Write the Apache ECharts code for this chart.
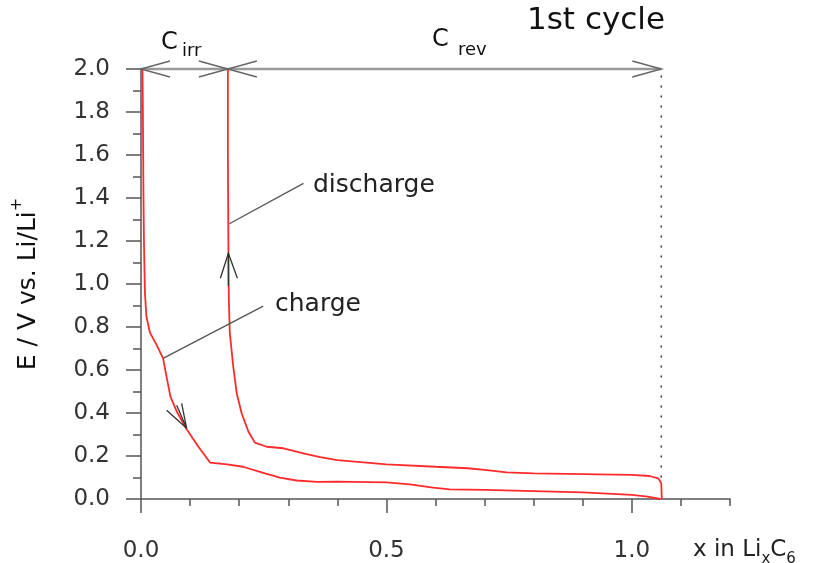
<!DOCTYPE html>
<html><head><meta charset="utf-8">
<script src="https://cdn.jsdelivr.net/npm/echarts@6/dist/echarts.min.js"></script>
<style>html,body{margin:0;padding:0;background:#fff}#c{width:828px;height:563px}</style>
</head><body><div id="c"></div>
<script>
// ---- data ----
const chargeX = [0.003, 0.004, 0.005, 0.006, 0.008, 0.011, 0.018, 0.032, 0.045, 0.052, 0.060, 0.073, 0.094, 0.117, 0.141, 0.175, 0.208, 0.249, 0.283, 0.317, 0.358, 0.400, 0.500, 0.548, 0.595, 0.629, 0.700, 0.800, 0.900, 1.000, 1.032, 1.058];
const chargeV = [2.000, 1.750, 1.420, 1.200, 0.960, 0.850, 0.775, 0.716, 0.654, 0.569, 0.476, 0.406, 0.321, 0.243, 0.169, 0.161, 0.150, 0.122, 0.099, 0.086, 0.080, 0.081, 0.077, 0.068, 0.053, 0.045, 0.042, 0.037, 0.031, 0.019, 0.011, 0.000];
const dischargeX = [1.061, 1.060, 1.054, 1.036, 1.000, 0.900, 0.800, 0.745, 0.700, 0.665, 0.600, 0.500, 0.400, 0.365, 0.335, 0.317, 0.290, 0.256, 0.232, 0.219, 0.205, 0.195, 0.188, 0.181, 0.179, 0.178, 0.177, 0.177];
const dischargeV = [0.000, 0.073, 0.096, 0.107, 0.112, 0.116, 0.119, 0.124, 0.135, 0.143, 0.150, 0.161, 0.181, 0.195, 0.210, 0.220, 0.236, 0.243, 0.262, 0.313, 0.399, 0.492, 0.615, 0.771, 0.926, 1.200, 1.600, 2.000];
const xTickLabels = [0, 0.5, 1.0];
const yTickLabels = [0, 0.2, 0.4, 0.6, 0.8, 1.0, 1.2, 1.4, 1.6, 1.8, 2.0];
// capacity markers (x in LixC6) and voltage level of the dimension line
const cIrrEnd = 0.177;
const cRevEnd = 1.06;
const topV = 2.0;
const dottedFromV = 0.1;
// annotation anchors (data coordinates)
const dischargeLeader = [[0.180, 1.28], [0.331, 1.468]];
const chargeLeader = [[0.045, 0.654], [0.249, 0.897]];
const dischargeArrowTip = [0.178, 1.143];
const chargeArrowTip = [0.093, 0.329];

const zip = (xs, ys) => xs.map((x, i) => [x, ys[i]]);

const DIRS = ['L', 'R', 'U', 'DR'];
const SHAPES = {
  L: [[[29, -8], [0, 0], [29, 8]]],
  R: [[[-29, -8], [0, 0], [-29, 8]]],
  U: [[[-8, 25], [0, 0], [9, 25]], [[0, 0], [0, 33]]],
  DR: [[[-20, -18], [0, 0]], [[-10, -23], [0, 0]], [[-5, -25], [0, 0]]]
};
function arrowRenderer(stroke, width) {
  return function (params, api) {
    const p = api.coord([api.value(0), api.value(1)]);
    const shapes = SHAPES[DIRS[api.value(2)]];
    return {
      type: 'group',
      children: shapes.map(pts => ({
        type: 'polyline',
        shape: { points: pts.map(q => [p[0] + q[0], p[1] + q[1]]) },
        style: { stroke: stroke, lineWidth: width, fill: null }
      }))
    };
  };
}

const FONT = '"DejaVu Sans", "Liberation Sans", Arial, sans-serif';
const AX = '#555';
const chart = echarts.init(document.getElementById('c'), null, { renderer: 'canvas' });
chart.setOption({
  animation: false,
  backgroundColor: '#fff',
  textStyle: { fontFamily: FONT },
  grid: { left: 141, top: 69, width: 589, height: 430, containLabel: false, outerBoundsMode: 'none' },
  xAxis: [{
    type: 'value', min: 0, max: 1.2, interval: 0.1, position: 'bottom',
    axisLine: { show: true, lineStyle: { color: AX, width: 1.5 } },
    axisTick: { show: true, length: 7, lineStyle: { color: AX, width: 1.5 } },
    axisLabel: { customValues: xTickLabels, formatter: v => v.toFixed(1), fontSize: 23, color: '#333', margin: 41, fontFamily: FONT },
    splitLine: { show: false }
  }, {
    type: 'value', min: 0, max: 1.2, interval: 0.1, position: 'bottom', offset: 0,
    axisLine: { show: false },
    axisTick: { show: true, length: 14, customValues: xTickLabels, lineStyle: { color: AX, width: 1.5 } },
    axisLabel: { show: false },
    splitLine: { show: false }
  }],
  yAxis: [{
    type: 'value', min: 0, max: 2, interval: 0.2,
    axisLine: { show: true, lineStyle: { color: AX, width: 1.5 } },
    axisTick: { show: true, length: 15, lineStyle: { color: AX, width: 1.5 } },
    minorTick: { show: true, splitNumber: 2, length: 8, lineStyle: { color: AX, width: 1.5 } },
    axisLabel: { customValues: yTickLabels, formatter: v => v.toFixed(1), fontSize: 23, color: '#333', margin: 31, fontFamily: FONT },
    splitLine: { show: false },
    name: '{m|E / V vs. Li/Li}{p|+}',
    nameLocation: 'middle', nameGap: 94, nameRotate: 90,
    nameTextStyle: {
      rich: {
        m: { fontSize: 25, lineHeight: 38, color: '#111', fontFamily: FONT },
        p: { fontSize: 16, lineHeight: 16, verticalAlign: 'top', color: '#111', fontFamily: FONT }
      }
    }
  }],
  graphic: [
    { type: 'text', x: 527, y: 21, style: { text: '1st cycle', fontSize: 31, fontFamily: FONT, fill: '#111', verticalAlign: 'middle' } },
    { type: 'text', x: 161, y: 43, style: { text: 'C', fontSize: 24, fontFamily: FONT, fill: '#111', verticalAlign: 'middle' } },
    { type: 'text', x: 182, y: 51, style: { text: 'irr', fontSize: 18, fontFamily: FONT, fill: '#111', verticalAlign: 'middle' } },
    { type: 'text', x: 432, y: 40, style: { text: 'C', fontSize: 24, fontFamily: FONT, fill: '#111', verticalAlign: 'middle' } },
    { type: 'text', x: 458, y: 50, style: { text: 'rev', fontSize: 18, fontFamily: FONT, fill: '#111', verticalAlign: 'middle' } },
    { type: 'text', x: 313, y: 185, style: { text: 'discharge', fontSize: 25, fontFamily: FONT, fill: '#222', verticalAlign: 'middle' } },
    { type: 'text', x: 275, y: 304, style: { text: 'charge', fontSize: 25, fontFamily: FONT, fill: '#222', verticalAlign: 'middle' } },
    { type: 'text', x: 693, y: 550, style: {
        text: '{m|x in Li}{s|x}{m|C}{s|6}', fill: '#222',
        rich: {
          m: { fontSize: 23, lineHeight: 34, fontFamily: FONT, fill: '#222' },
          s: { fontSize: 15, lineHeight: 15, verticalAlign: 'bottom', fontFamily: FONT, fill: '#222' }
        },
        verticalAlign: 'middle'
      } }
  ],
  series: [
    { type: 'line', name: 'dimension', data: [[0, topV], [cRevEnd, topV]], showSymbol: false, symbol: 'none',
      lineStyle: { color: '#9a9a9a', width: 2.5 }, z: 3, clip: false },
    { type: 'line', name: 'end marker', data: [[cRevEnd, dottedFromV], [cRevEnd, topV]], showSymbol: false, symbol: 'none',
      lineStyle: { color: '#333', width: 1.5, type: [2, 8] }, z: 3 },
    { type: 'line', name: 'charge', data: zip(chargeX, chargeV), showSymbol: false, symbol: 'none',
      lineStyle: { color: '#ff2b2b', width: 1.8 }, z: 4, clip: false },
    { type: 'line', name: 'discharge', data: zip(dischargeX, dischargeV), showSymbol: false, symbol: 'none',
      lineStyle: { color: '#ff2b2b', width: 1.8 }, z: 4, clip: false },
    { type: 'line', name: 'discharge leader', data: dischargeLeader, showSymbol: false, symbol: 'none',
      lineStyle: { color: '#555', width: 1.3 }, z: 5 },
    { type: 'line', name: 'charge leader', data: chargeLeader, showSymbol: false, symbol: 'none',
      lineStyle: { color: '#555', width: 1.3 }, z: 5 },
    { type: 'custom', name: 'dimension arrows', renderItem: arrowRenderer('#666', 1.5), clip: false, z: 6,
      encode: { x: 0, y: 1 },
      data: [[0, topV, 0], [cIrrEnd, topV, 1], [cIrrEnd, topV, 0], [cRevEnd, topV, 1]] },
    { type: 'custom', name: 'curve arrows', renderItem: arrowRenderer('#333', 1.3), clip: false, z: 6,
      encode: { x: 0, y: 1 },
      data: [[dischargeArrowTip[0], dischargeArrowTip[1], 2], [chargeArrowTip[0], chargeArrowTip[1], 3]] }
  ]
});
</script>
</body></html>
